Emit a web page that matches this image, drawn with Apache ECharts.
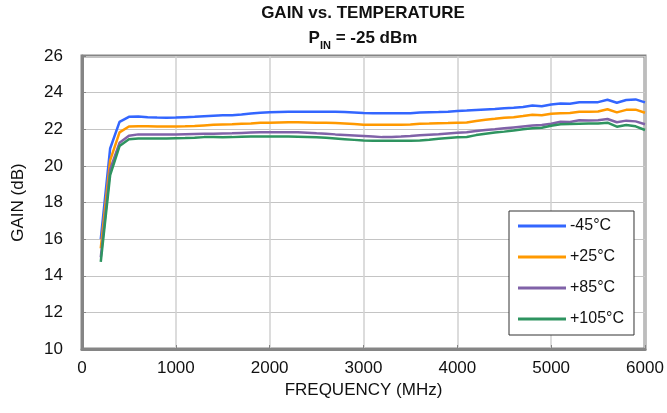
<!DOCTYPE html>
<html>
<head>
<meta charset="utf-8">
<script src="https://cdn.jsdelivr.net/npm/echarts@6/dist/echarts.min.js"></script>
<style>html,body{margin:0;padding:0;background:#fff;}#c{width:667px;height:413px;}</style>
</head>
<body>
<div id="c"></div>
<script>
var freqs = [200,300,400,500,600,700,800,900,1000,1100,1200,1300,1400,1500,1600,1700,1800,1900,2000,2100,2200,2300,2400,2500,2600,2700,2800,2900,3000,3100,3200,3300,3400,3500,3600,3700,3800,3900,4000,4100,4200,4300,4400,4500,4600,4700,4800,4900,5000,5100,5200,5300,5400,5500,5600,5700,5800,5900,6000];
var seriesNames = ['-45°C', '+25°C', '+85°C', '+105°C'];
var gainM45 = [16.0,20.95,22.4,22.68,22.7,22.66,22.64,22.63,22.64,22.66,22.68,22.71,22.74,22.76,22.77,22.8,22.86,22.9,22.93,22.94,22.95,22.95,22.95,22.95,22.95,22.95,22.94,22.92,22.89,22.87,22.87,22.87,22.87,22.88,22.92,22.93,22.94,22.96,23.0,23.02,23.05,23.08,23.1,23.15,23.17,23.22,23.3,23.26,23.35,23.41,23.39,23.47,23.47,23.48,23.61,23.45,23.6,23.63,23.47];
var gainP25 = [15.5,20.3,21.83,22.15,22.17,22.16,22.15,22.15,22.15,22.16,22.18,22.21,22.24,22.26,22.27,22.3,22.32,22.35,22.36,22.37,22.38,22.38,22.37,22.36,22.35,22.34,22.32,22.29,22.25,22.25,22.25,22.25,22.25,22.26,22.3,22.31,22.33,22.34,22.36,22.37,22.45,22.52,22.57,22.63,22.66,22.72,22.79,22.76,22.85,22.87,22.89,22.96,22.96,22.97,23.09,22.92,23.06,23.07,22.9];
var gainP85 = [15.0,19.8,21.26,21.65,21.72,21.72,21.72,21.72,21.72,21.73,21.74,21.75,21.76,21.77,21.78,21.8,21.82,21.83,21.83,21.83,21.83,21.83,21.81,21.78,21.76,21.72,21.69,21.66,21.63,21.6,21.57,21.58,21.6,21.63,21.67,21.7,21.73,21.77,21.81,21.83,21.9,21.96,22.0,22.05,22.1,22.15,22.2,22.23,22.3,22.41,22.4,22.49,22.48,22.49,22.56,22.38,22.47,22.43,22.27];
var gainP105 = [14.76,19.5,21.08,21.45,21.5,21.5,21.5,21.5,21.51,21.52,21.54,21.57,21.58,21.56,21.57,21.59,21.6,21.6,21.6,21.6,21.6,21.59,21.58,21.56,21.53,21.5,21.46,21.42,21.38,21.37,21.37,21.37,21.37,21.37,21.39,21.43,21.48,21.52,21.56,21.58,21.68,21.76,21.82,21.87,21.93,22.0,22.05,22.08,22.19,22.27,22.29,22.3,22.31,22.32,22.36,22.14,22.23,22.16,21.96];
var xTicks = [0,1000,2000,3000,4000,5000,6000];
var yTicks = [10,12,14,16,18,20,22,24,26];

var colors = ['#3366ff', '#ff9900', '#8062a8', '#2e9460'];
var allData = [gainM45, gainP25, gainP85, gainP105];
var FONT = 'Liberation Sans, Arial, sans-serif';

function pairs(vals) {
  return freqs.map(function (f, i) { return [f, vals[i]]; });
}

var chart = echarts.init(document.getElementById('c'), null, {renderer: 'canvas'});
chart.setOption({
  backgroundColor: '#ffffff',
  animation: false,
  textStyle: {fontFamily: FONT},
  graphic: [
    {type: 'text', z: 10, x: 363, y: 5,
      style: {text: 'GAIN vs. TEMPERATURE', textAlign: 'center', fill: '#111', font: 'bold 17px ' + FONT}},
    {type: 'text', z: 10, x: 363, y: 27,
      style: {text: '{n|P}{s|IN}{n| = -25 dBm}', textAlign: 'center', fill: '#111',
        rich: {
          n: {fontSize: 17, fontWeight: 'bold', fontFamily: FONT, fill: '#111', lineHeight: 20, verticalAlign: 'bottom'},
          s: {fontSize: 11, fontWeight: 'bold', fontFamily: FONT, fill: '#111', lineHeight: 20, verticalAlign: 'bottom', padding: [0, 0, -4, 0]}
        }}}
  ],
  grid: {left: 82, right: 22, top: 56, bottom: 64, show: true, borderColor: '#858585', borderWidth: 3, backgroundColor: '#fff'},
  legend: {
    orient: 'vertical', left: 509, top: 211,
    data: seriesNames.map(function (n) { return {name: n, icon: 'rect'}; }),
    itemWidth: 48, itemHeight: 3, itemGap: 15,
    padding: [7, 10, 8, 9],
    backgroundColor: '#fff', borderColor: '#333', borderWidth: 1,
    textStyle: {fontSize: 16, color: '#111', fontFamily: FONT, padding: [0, 0, 0, -1]}
  },
  xAxis: {
    type: 'value', min: 0, max: 6000, interval: 1000,
    name: 'FREQUENCY (MHz)', nameLocation: 'middle', nameGap: 32,
    nameTextStyle: {fontSize: 17, color: '#111', fontFamily: FONT},
    axisLine: {show: true, lineStyle: {color: '#858585', width: 3}},
    axisTick: {show: true, inside: true, length: 4, lineStyle: {color: '#858585', width: 1}},
    axisLabel: {fontSize: 17, color: '#111', margin: 11, fontFamily: FONT,
      formatter: function (v) { return xTicks.indexOf(v) >= 0 ? String(v) : ''; }},
    splitLine: {show: true, lineStyle: {color: '#d0d0d0', width: 1.5}}
  },
  yAxis: {
    type: 'value', min: 10, max: 26, interval: 2,
    name: 'GAIN (dB)', nameLocation: 'middle', nameGap: 55,
    nameTextStyle: {fontSize: 17, color: '#111', fontFamily: FONT},
    axisLine: {show: true, lineStyle: {color: '#858585', width: 3}},
    axisTick: {show: true, inside: true, length: 4, lineStyle: {color: '#858585', width: 1}},
    axisLabel: {fontSize: 17, color: '#111', margin: 19, fontFamily: FONT,
      formatter: function (v) { return yTicks.indexOf(v) >= 0 ? String(v) : ''; }},
    splitLine: {show: true, lineStyle: {color: '#c4c4c4', width: 1}}
  },
  series: seriesNames.map(function (n, i) {
    return {
      name: n, type: 'line', data: pairs(allData[i]), showSymbol: false, symbol: 'none',
      color: colors[i],
      lineStyle: {color: colors[i], width: 2.5},
      z: 2 + i
    };
  })
});
</script>
</body>
</html>
